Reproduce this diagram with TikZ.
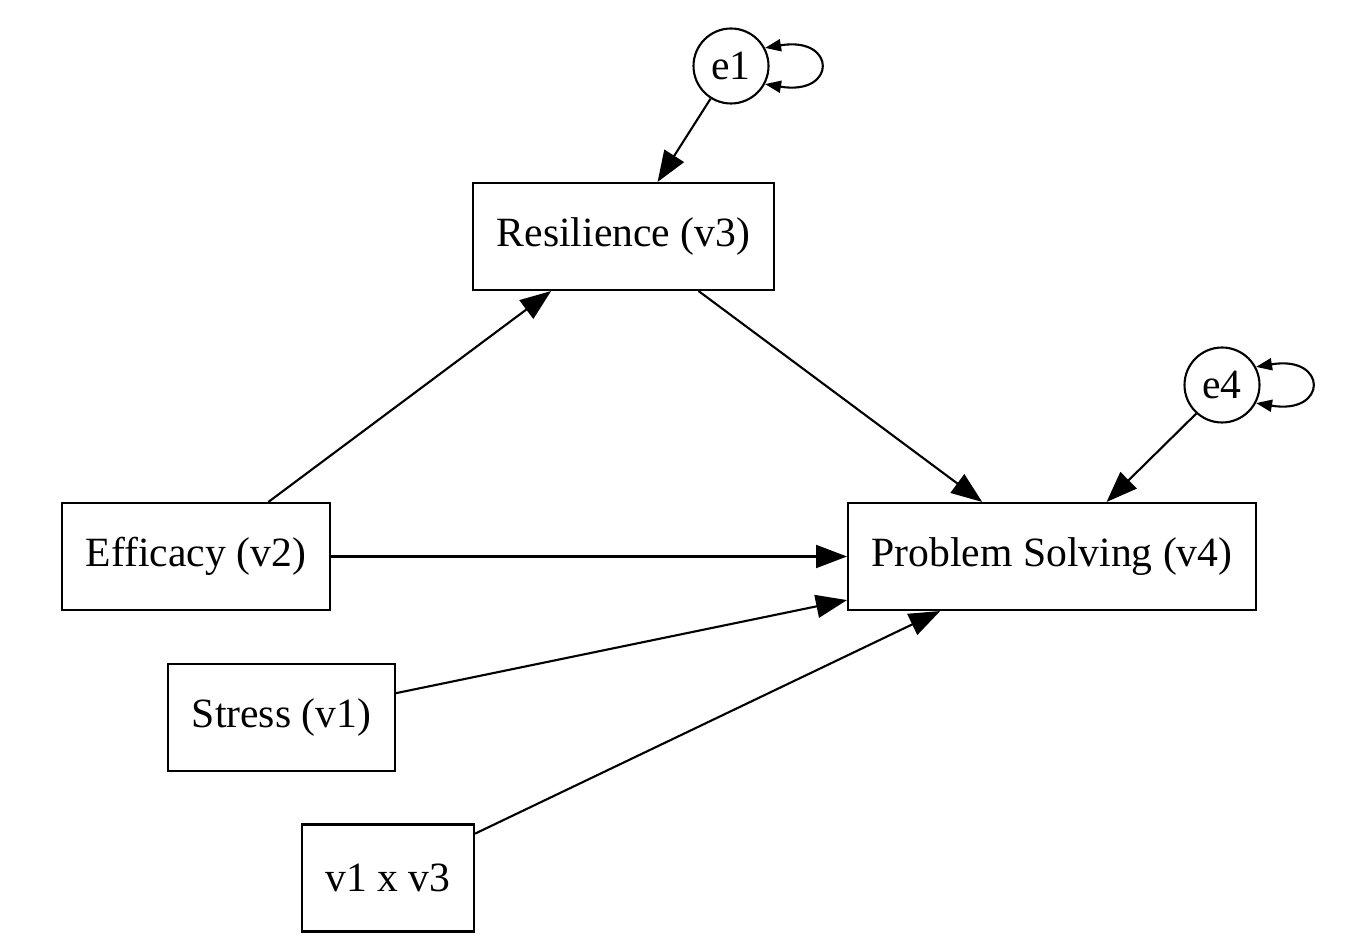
\documentclass[tikz,border=0pt]{standalone}
\usepackage{fontspec}
\setmainfont{Liberation Serif}
\usepackage{tikz}
\usetikzlibrary{arrows.meta}
\tikzset{
	varbox/.style={draw, line width=1.2pt, inner sep=0pt, font=\fontsize{23.7}{28}\selectfont},
	errnode/.style={draw, circle, line width=1.2pt, minimum size=1.5cm, inner sep=0pt, font=\fontsize{23.7}{28}\selectfont},
	patharr/.style={-{Triangle[length=0.62cm, width=0.46cm]}, line width=1.2pt},
	selfloop/.style={{Triangle[length=0.32cm, width=0.24cm]}-{Triangle[length=0.32cm, width=0.24cm]}, line width=1.2pt},
}

\begin{document}
\begin{tikzpicture}[x=0.02cm, y=-0.02cm]
	\useasboundingbox (0,0) rectangle (1352,952);
	% observed variables
	\node[varbox, minimum width=6.02cm, minimum height=2.14cm] (res) at (623.5,236.5) {Resilience (v3)};
	\node[varbox, minimum width=5.36cm, minimum height=2.14cm] (eff) at (196,556.5) {Efficacy (v2)};
	\node[varbox, minimum width=8.16cm, minimum height=2.14cm] (ps) at (1052,556.5) {Problem Solving (v4)};
	\node[varbox, minimum width=4.54cm, minimum height=2.14cm] (str) at (281.5,717.5) {Stress (v1)};
	\node[varbox, minimum width=3.44cm, minimum height=2.14cm] (int) at (388,878) {v1 x v3};
	% error terms
	\node[errnode] (e1) at (731,66) {e1};
	\node[errnode] (e4) at (1222,385) {e4};
	% paths
	\draw[patharr] (e1.238) -- (res.58);
	\draw[patharr] (eff.37) -- (res.217);
	\draw[patharr] (res.-36) -- (ps.142);
	\draw[patharr] (eff.east) -- (ps.west);
	\draw[patharr] (str.12) -- (ps.192);
	\draw[patharr] (int.27) -- (ps.206);
	\draw[patharr] (e4.228) -- (ps.45);
	% variances
	\draw[selfloop] (e1.28) .. controls +(72,-12) and +(72,12) .. (e1.-28);
	\draw[selfloop] (e4.28) .. controls +(72,-12) and +(72,12) .. (e4.-28);
\end{tikzpicture}
\end{document}
